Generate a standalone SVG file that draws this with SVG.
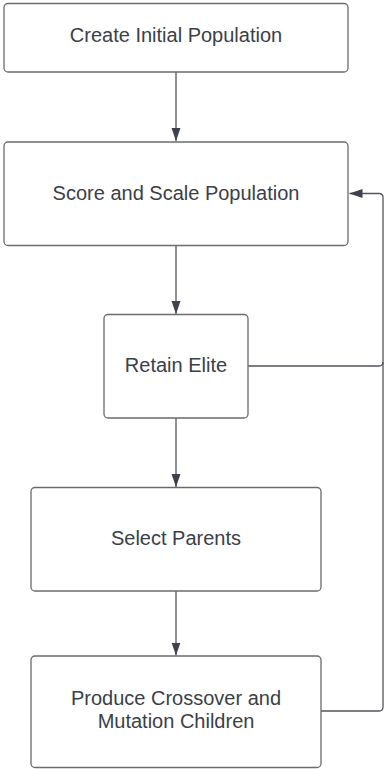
<svg xmlns="http://www.w3.org/2000/svg" width="385" height="769" viewBox="0 0 385 769">
<defs>
<marker id="ah" viewBox="0 0 13 10" refX="13" refY="5" markerWidth="13" markerHeight="10" markerUnits="userSpaceOnUse" orient="auto">
<path d="M0,0.5 L13,5 L0,9.5 Z" fill="#3d434c"/>
</marker>
<style>
.box{fill:#ffffff;stroke:#6b6b6b;stroke-width:1.3}
.lbl{font-family:"Liberation Sans",Arial,sans-serif;font-size:20px;fill:#3a4049;text-anchor:middle}
.con{fill:none;stroke:#50555c;stroke-width:1.3}
</style>
</defs>
<rect width="385" height="769" fill="#ffffff"/>
<g id="connectors">
<line class="con" x1="176" y1="72" x2="176" y2="141" marker-end="url(#ah)"/>
<line class="con" x1="176" y1="245.5" x2="176" y2="314" marker-end="url(#ah)"/>
<line class="con" x1="176" y1="418" x2="176" y2="487" marker-end="url(#ah)"/>
<line class="con" x1="176" y1="591" x2="176" y2="655.5" marker-end="url(#ah)"/>
<path class="con" d="M248,366 H379 Q383,366 383,362 V197.5 Q383,193.5 379,193.5 H349.5" marker-end="url(#ah)"/>
<path class="con" d="M321,711 H379 Q383,711 383,707 V362"/>
</g>
<g id="n1">
<rect class="box" x="4" y="3.5" width="344" height="68.5" rx="4"/>
<text class="lbl" x="176" y="42">Create Initial Population</text>
</g>
<g id="n2">
<rect class="box" x="4" y="142" width="344" height="103.5" rx="4"/>
<text class="lbl" x="176" y="200">Score and Scale Population</text>
</g>
<g id="n3">
<rect class="box" x="104" y="314.5" width="144" height="103.5" rx="4"/>
<text class="lbl" x="176" y="372">Retain Elite</text>
</g>
<g id="n4">
<rect class="box" x="31" y="487.5" width="290" height="103.5" rx="4"/>
<text class="lbl" x="176" y="545">Select Parents</text>
</g>
<g id="n5">
<rect class="box" x="31" y="656" width="290" height="111.5" rx="4"/>
<text class="lbl" x="176" y="705">Produce Crossover and</text>
<text class="lbl" x="176" y="728">Mutation Children</text>
</g>
</svg>
